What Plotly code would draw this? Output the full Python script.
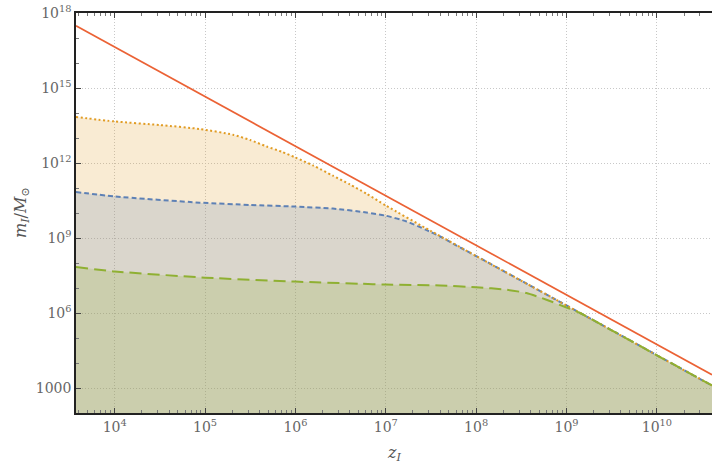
import plotly.graph_objects as go

# ---- data ----
red_z = [3.73e3, 1e4, 1e5, 1e6, 1e7, 1e8, 1e9, 1e10, 4.07e10]
red_m = [3.1e17, 4.4e16, 4.6e14, 4.8e12, 5.0e10, 5.1e8, 5.4e6, 5.5e4, 3.4e3]

orange_z = [3.73e3, 1e4, 3.16e4, 8.7e4, 2.04e5, 3.16e5, 4.8e5, 7.1e5, 1e6, 1.58e6,
            2.6e6, 4e6, 6.1e6, 1e7, 3.16e7, 1e8, 3.16e8, 1e9, 3.16e9, 1e10, 4.07e10]
orange_m = [6.9e13, 4.6e13, 3.3e13, 2.3e13, 1.35e13, 8.3e12, 4.6e12, 2.8e12, 1.66e12, 7.9e11,
            3.1e11, 1.4e11, 6.0e10, 2.0e10, 1.9e9, 1.9e8, 1.95e7, 2.0e6, 2.04e5, 2.04e4, 1.26e3]

blue_z = [3.73e3, 1e4, 8.7e4, 3.16e5, 1e6, 2.6e6, 6.1e6, 1e7, 1.7e7, 2.8e7, 4e7, 6e7,
          1e8, 3.16e8, 1e9, 3.16e9, 1e10, 4.07e10]
blue_m = [6.9e10, 4.6e10, 2.6e10, 2.1e10, 1.8e10, 1.5e10, 1.05e10, 7.8e9, 4.6e9, 2.1e9, 1.15e9, 5.1e8,
          1.9e8, 1.95e7, 2.0e6, 2.04e5, 2.04e4, 1.26e3]

green_z = [3.73e3, 1e4, 1e5, 1e6, 5.2e6, 1e7, 4e7, 1e8, 2.2e8, 3.6e8, 6e8, 1e9, 1.41e9,
           3.16e9, 1e10, 4.07e10]
green_m = [6.9e7, 4.6e7, 2.6e7, 1.8e7, 1.48e7, 1.38e7, 1.26e7, 1.07e7, 8.5e6, 6.3e6, 3.4e6, 1.66e6, 1.0e6,
           2.04e5, 2.04e4, 1.26e3]

x_tick_vals = [1e4, 1e5, 1e6, 1e7, 1e8, 1e9, 1e10]
x_tick_text = ["10<sup>4</sup>", "10<sup>5</sup>", "10<sup>6</sup>", "10<sup>7</sup>",
               "10<sup>8</sup>", "10<sup>9</sup>", "10<sup>10</sup>"]
y_tick_vals = [1e3, 1e6, 1e9, 1e12, 1e15, 1e18]
y_tick_text = ["1000", "10<sup>6</sup>", "10<sup>9</sup>", "10<sup>12</sup>",
               "10<sup>15</sup>", "10<sup>18</sup>"]

x_title = "<i>z</i><sub><i>I</i></sub>"
y_title = "<i>m</i><sub><i>I</i></sub>/<i>M</i><sub>⊙</sub>"

X_RANGE = [3.572, 10.61]   # log10
Y_RANGE = [2.0, 18.0005]   # log10
BASE = 1e2

RED = "#EB6235"
ORANGE = "#E19C24"
BLUE = "#5E81B5"
GREEN = "#8FB032"


def rgba(hexc, a):
    h = hexc.lstrip("#")
    return f"rgba({int(h[0:2],16)},{int(h[2:4],16)},{int(h[4:6],16)},{a})"


fig = go.Figure()

# fills (each down to the bottom of the frame)
for zs, ms, col in [(orange_z, orange_m, ORANGE), (blue_z, blue_m, BLUE), (green_z, green_m, GREEN)]:
    fig.add_trace(go.Scatter(x=[zs[0], zs[-1]], y=[BASE, BASE], mode="lines",
                             line=dict(width=0), showlegend=False, hoverinfo="skip"))
    fig.add_trace(go.Scatter(x=zs, y=ms, mode="lines", fill="tonexty",
                             fillcolor=rgba(col, 0.2), line=dict(width=0, shape="spline", smoothing=0.6),
                             showlegend=False, hoverinfo="skip"))

# lines
fig.add_trace(go.Scatter(x=blue_z, y=blue_m, mode="lines",
                         line=dict(color=BLUE, width=2, dash="5px,3px", shape="spline", smoothing=0.6),
                         showlegend=False))
fig.add_trace(go.Scatter(x=orange_z, y=orange_m, mode="lines",
                         line=dict(color=ORANGE, width=2, dash="2px,2.5px", shape="spline", smoothing=0.6),
                         showlegend=False))
fig.add_trace(go.Scatter(x=green_z, y=green_m, mode="lines",
                         line=dict(color=GREEN, width=2, dash="12px,6px", shape="spline", smoothing=0.6),
                         showlegend=False))
fig.add_trace(go.Scatter(x=red_z, y=red_m, mode="lines",
                         line=dict(color=RED, width=1.7), showlegend=False))

x_minor = [m * 10 ** d for d in range(3, 11) for m in range(2, 10)]
y_minor = [10.0 ** d for d in range(2, 19) if d % 3 != 0]

font_family = "DejaVu Serif"
tick_font = dict(family=font_family, size=14, color="#666666")
title_font = dict(family=font_family, size=16, color="#555555")

fig.update_layout(
    width=712, height=461,
    margin=dict(l=76, r=0, t=13, b=48),
    paper_bgcolor="white", plot_bgcolor="white",
    font=dict(family=font_family),
    hovermode=False,
    xaxis=dict(
        type="log", range=X_RANGE, automargin=False,
        tickmode="array", tickvals=x_tick_vals, ticktext=x_tick_text,
        ticks="inside", ticklen=5, tickwidth=1, tickcolor="#444444",
        showline=True, linecolor="#222222", linewidth=1.5, mirror="ticks",
        showgrid=True, gridcolor="#c8c8c8", griddash="1px,2px", gridwidth=1,
        zeroline=False, tickfont=tick_font,
        minor=dict(tickmode="array", tickvals=x_minor, ticks="inside", ticklen=3,
                   tickcolor="#777777", showgrid=False),
    ),
    yaxis=dict(
        type="log", range=Y_RANGE, automargin=False,
        tickmode="array", tickvals=y_tick_vals, ticktext=y_tick_text,
        ticks="inside", ticklen=5, tickwidth=1, tickcolor="#444444",
        showline=True, linecolor="#222222", linewidth=1.5, mirror=False,
        showgrid=True, gridcolor="#c8c8c8", griddash="1px,2px", gridwidth=1,
        zeroline=False, tickfont=tick_font,
        minor=dict(tickmode="array", tickvals=y_minor, ticks="inside", ticklen=3,
                   tickcolor="#777777", showgrid=False),
    ),
    annotations=[
        dict(text=x_title, xref="paper", yref="paper", x=0.5, y=0, yshift=-40,
             xanchor="center", yanchor="middle", showarrow=False, font=title_font),
        dict(text=y_title, xref="paper", yref="paper", x=0, y=0.5, xshift=-55,
             xanchor="center", yanchor="middle", textangle=-90, showarrow=False, font=title_font),
    ],
)

fig.write_html(
    "out.html",
    config={"displayModeBar": False},
    post_script="document.body.style.margin='0';document.body.style.overflow='hidden';",
)
